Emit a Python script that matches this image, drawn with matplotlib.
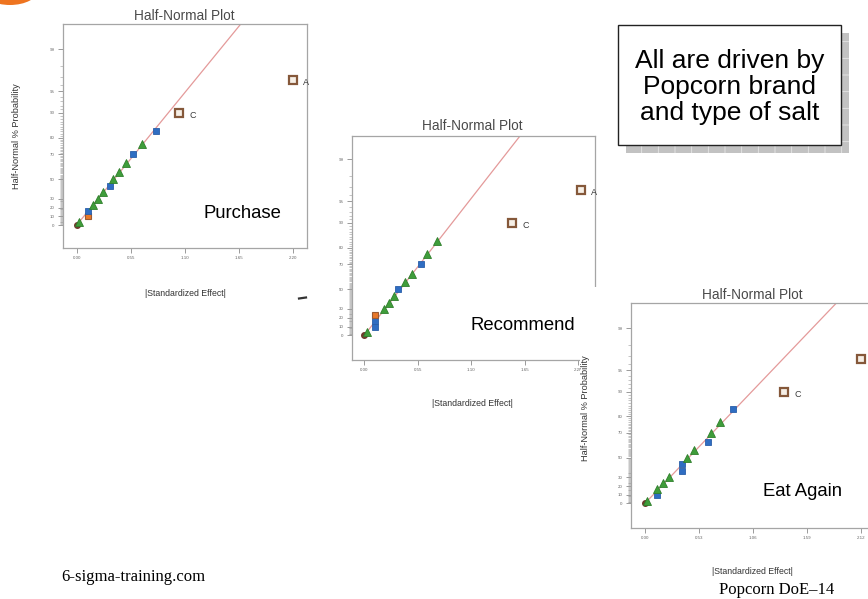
import numpy as np
import matplotlib
matplotlib.use("Agg")
import matplotlib.pyplot as plt
from matplotlib.patches import Rectangle, Ellipse
from matplotlib.lines import Line2D
from statistics import NormalDist

plt.rcParams["font.family"] = ["Liberation Sans", "DejaVu Sans"]

W, H = 868, 599

# ---------------- data ----------------
# half-normal probability (%) of the ranked effects, shared by all three responses
prob_pct = [3.3, 10.0, 16.7, 23.3, 30.0, 36.7, 43.3, 50.0, 56.7, 63.3, 70.0, 76.7, 83.3, 90.0, 96.7]

# |standardized effect| for each response, in rank order
purchase_effect = [0.027, 0.112, 0.112, 0.163, 0.214, 0.265, 0.339, 0.373, 0.431, 0.499,
                   0.573, 0.668, 0.805, 1.042, 2.20]
recommend_effect = [0.031, 0.110, 0.110, 0.110, 0.206, 0.257, 0.308, 0.349, 0.418, 0.487,
                    0.583, 0.641, 0.744, 1.521, 2.224]
eat_again_effect = [0.017, 0.115, 0.121, 0.180, 0.239, 0.367, 0.367, 0.416, 0.485, 0.617,
                    0.646, 0.740, 0.868, 1.370, 2.120]

# e = error estimate, p = positive effect, n = negative effect, s = selected term
purchase_kind = ["e", "p", "n", "e", "e", "e", "n", "e", "e", "e", "n", "e", "n", "s", "s"]
recommend_kind = ["e", "n", "n", "p", "e", "e", "e", "n", "e", "e", "n", "e", "e", "s", "s"]
eat_again_kind = ["e", "n", "e", "e", "e", "n", "n", "e", "e", "n", "e", "e", "n", "s", "s"]

purchase_terms = ["", "", "", "", "", "", "", "", "", "", "", "", "", "C", "A"]
recommend_terms = ["", "", "", "", "", "", "", "", "", "", "", "", "", "C", "A"]
eat_again_terms = ["", "", "", "", "", "", "", "", "", "", "", "", "", "C", ""]

# slope of the fitted reference line (normal score per unit effect)
purchase_slope = 1.764
recommend_slope = 1.824
eat_again_slope = 1.567

purchase_xticks = [0.00, 0.55, 1.10, 1.65, 2.20]
recommend_xticks = [0.00, 0.55, 1.10, 1.65, 2.20]
eat_again_xticks = [0.00, 0.53, 1.06, 1.59, 2.12]

prob_ticks = [0, 10, 20, 30, 50, 70, 80, 90, 95, 99]

# ---------------- half-normal probability scale ----------------
_nd = NormalDist()


def hn_forward(p):
    p = np.clip(np.asarray(p, dtype=float), -99.9999, 99.9999)
    out = np.array([_nd.inv_cdf(0.5 + v / 200.0) if np.isfinite(v) else np.nan
                    for v in p.ravel()])
    return out.reshape(p.shape)


def hn_inverse(z):
    z = np.asarray(z, dtype=float)
    out = np.array([200.0 * (_nd.cdf(v) - 0.5) if np.isfinite(v) else np.nan
                    for v in z.ravel()])
    return out.reshape(z.shape)


fig = plt.figure(figsize=(W / 100, H / 100), dpi=100)
fig.patch.set_facecolor("white")


def fx(px):
    return px / W


def fy(py):
    return 1 - py / H


STYLE = {
    "e": dict(marker="^", ms=5.5, mfc="#3f9d3a", mec="#2f7f2c", mew=0.6),
    "n": dict(marker="s", ms=4.6, mfc="#2f6dc2", mec="#2a5ea8", mew=0.6),
    "p": dict(marker="s", ms=4.6, mfc="#e8782a", mec="#9a5a32", mew=0.8),
    "s": dict(marker="s", ms=5.6, mfc="#f6efe6", mec="#85583a", mew=1.6),
}


def panel(box, xlim, zlim, xticks, effect, kind, terms, slope, zorder, ylabel_pos=None,
          title_pos=None, xlabel_pos=None):
    left, top, right, bottom = box
    ax = fig.add_axes([fx(left), fy(bottom), (right - left) / W, (bottom - top) / H],
                      zorder=zorder)
    ax.set_facecolor("white")
    ax.set_yscale("function", functions=(hn_forward, hn_inverse))
    ax.set_xlim(*xlim)
    ax.set_ylim(float(hn_inverse(zlim[0])), float(hn_inverse(zlim[1])))

    # fitted reference line through the origin
    xs = np.linspace(0, xlim[1], 300)
    ax.plot(xs, hn_inverse(slope * xs), color="#e49a9a", lw=0.9, zorder=2)

    # origin point
    ax.plot([0.0], [0.0], marker="o", ms=4, mfc="#6e3b2c", mec="#6e3b2c",
            ls="none", zorder=3)

    for x, p, k, lab in zip(effect, prob_pct, kind, terms):
        ax.plot([x], [p], ls="none", zorder=4, **STYLE[k])
        if lab:
            ax.annotate(lab, (x, p), xytext=(7.5, -1.8), textcoords="offset points",
                        fontsize=6.5, color="#3a3a3a", va="center", ha="left",
                        annotation_clip=False)

    ax.set_xticks(xticks)
    ax.set_xticklabels([f"{t:.2f}" for t in xticks])
    ax.set_yticks(prob_ticks)
    ax.set_yticklabels([str(t) for t in prob_ticks])
    ax.set_yticks([i for i in range(1, 99) if i not in prob_ticks], minor=True)
    ax.tick_params(axis="both", which="major", length=3.5, width=0.6, color="#8a8a8a",
                   labelsize=3.2, labelcolor="#666666", pad=2.5)
    ax.tick_params(axis="y", which="minor", length=2.2, width=0.4, color="#9a9a9a")
    ax.tick_params(axis="x", which="minor", length=0)
    for s in ax.spines.values():
        s.set_color("#a5a5a5")
        s.set_linewidth(0.9)

    if title_pos:
        fig.text(fx(title_pos[0]), fy(title_pos[1]), "Half-Normal Plot", fontsize=9.8,
                 color="#4a4a4a", ha="center", va="center")
    if xlabel_pos:
        fig.text(fx(xlabel_pos[0]), fy(xlabel_pos[1]), "|Standardized Effect|",
                 fontsize=6.3, color="#333333", ha="center", va="center")
    if ylabel_pos:
        ax.text(fx(ylabel_pos[0]), fy(ylabel_pos[1]), "Half-Normal % Probability",
                transform=fig.transFigure, fontsize=6.6, color="#333333",
                rotation=90, ha="center", va="center")
    return ax


# Purchase
panel((63, 24, 306.7, 248), (-0.14, 2.342), (-0.337, 2.947), purchase_xticks,
      purchase_effect, purchase_kind, purchase_terms, purchase_slope, zorder=1,
      ylabel_pos=(17, 136), title_pos=(184, 15.5), xlabel_pos=(185, 293))

# Recommend
panel((351.7, 136, 595, 360), (-0.1295, 2.371), (-0.362, 2.918), recommend_xticks,
      recommend_effect, recommend_kind, recommend_terms, recommend_slope, zorder=1,
      title_pos=(472, 126.5), xlabel_pos=(472, 403.5))

# white backing of the lower-right chart, overlapping the middle one
fig.add_artist(Rectangle((fx(580), fy(599)), (868 - 580) / W, (599 - 287) / H,
                         transform=fig.transFigure, facecolor="white",
                         edgecolor="none", zorder=1.5))

# Eat Again
panel((631, 302.7, 880, 527.7), (-0.138, 2.311), (-0.359, 2.954), eat_again_xticks,
      eat_again_effect, eat_again_kind, eat_again_terms, eat_again_slope, zorder=2,
      ylabel_pos=(586, 408), title_pos=(752, 295), xlabel_pos=(752, 571.5))

# response names
for name, (px, py) in [("Purchase", (242.5, 213)), ("Recommend", (523, 326)),
                       ("Eat Again", (802.5, 492))]:
    fig.text(fx(px), fy(py), name, fontsize=13.3, color="black", ha="center",
             va="center", zorder=5)

# small mark below the first chart
fig.add_artist(Line2D([fx(299), fx(306)], [fy(298.5), fy(297.5)], color="#333333",
                      lw=1.6, transform=fig.transFigure, zorder=5))

# callout box with hatched shadow
plt.rcParams["hatch.linewidth"] = 0.6
fig.add_artist(Rectangle((fx(626), fy(153)), (849 - 626) / W, (153 - 33) / H,
                         transform=fig.transFigure, facecolor="#c2c2c2",
                         edgecolor="#e6e6e6", hatch="+", lw=0, zorder=6))
fig.add_artist(Rectangle((fx(618), fy(145)), (841 - 618) / W, (145 - 25) / H,
                         transform=fig.transFigure, facecolor="white",
                         edgecolor="#222222", lw=1.0, zorder=7))
fig.text(fx(729.5), fy(87), "All are driven by\nPopcorn brand\nand type of salt",
         fontsize=19, ha="center", va="center", linespacing=1.12, color="black",
         zorder=8)

# orange logo edge in the corner
fig.add_artist(Ellipse((fx(10), fy(-10)), 56 / W, 30 / H, transform=fig.transFigure,
                       facecolor="#ee7420", edgecolor="none", zorder=6))

# footer
fig.text(fx(61), fy(577), "6-sigma-training.com", fontsize=12,
         family=["Liberation Serif", "DejaVu Serif"], ha="left", va="center")
fig.text(fx(777), fy(590), "Popcorn DoE\u201314", fontsize=12,
         family=["Liberation Serif", "DejaVu Serif"], ha="center", va="center")

fig.savefig("out.png", dpi=100)
